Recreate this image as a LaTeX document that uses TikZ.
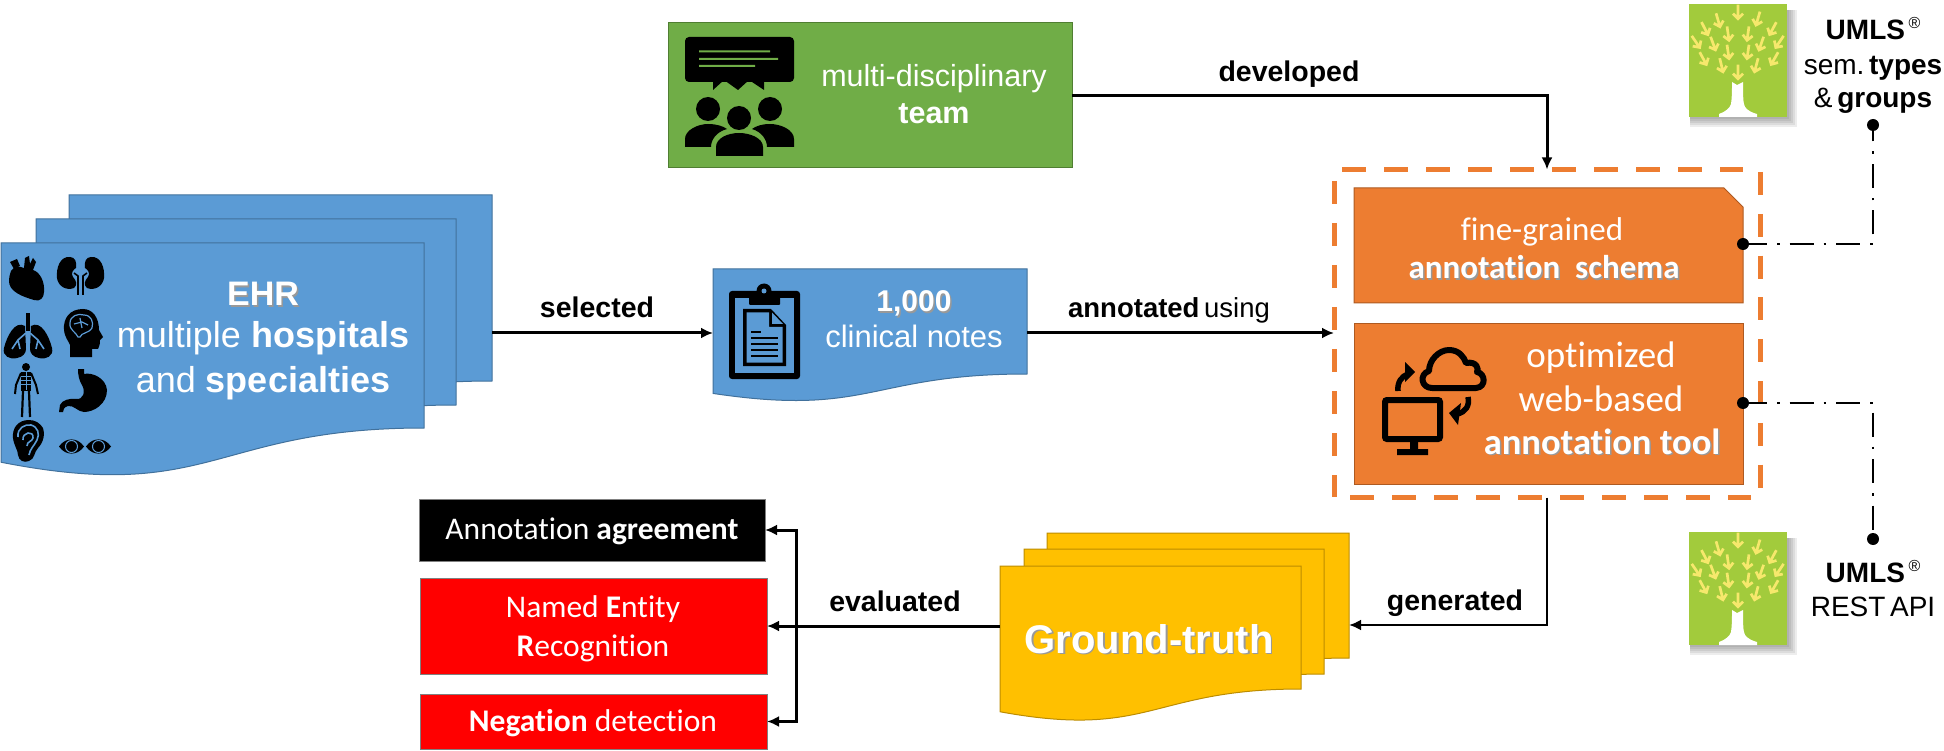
\documentclass[tikz,border=0pt]{standalone}
\usepackage{fontspec}
\setmainfont{Liberation Sans}
\newfontfamily\calfont[Ligatures=NoCommon]{Carlito}
\usetikzlibrary{arrows.meta,calc}

\definecolor{docblue}{HTML}{5B9BD5}
\definecolor{docblueline}{HTML}{41719C}
\definecolor{teamgreen}{HTML}{70AD47}
\definecolor{teamline}{HTML}{507E32}
\definecolor{toolorange}{HTML}{ED7D31}
\definecolor{toolline}{HTML}{AE5A21}
\definecolor{gtyellow}{HTML}{FFC000}
\definecolor{gtline}{HTML}{BC8C00}
\definecolor{leafgreen}{HTML}{A2CB3C}
\definecolor{leafyellow}{HTML}{F6E86C}

% white or black text with a small soft drop shadow
\newcommand{\shtext}[1]{\leavevmode\rlap{\kern1.5pt\raisebox{-1.5pt}{\textcolor{black!40}{#1}}}#1}
\newcommand{\px}[1]{\fontsize{#1}{#1}\selectfont}
% registered mark set small and high, clear of the word before it
\newcommand{\regmark}{\kern3.5pt\raisebox{11pt}{\px{16}®}}

% wavy-bottomed document sheet with an invisible named node over its body
\newcommand{\docshape}[6]{%
  \pgfmathsetmacro\dxm{(#3+#5)/2}%
  \pgfmathsetmacro\dyL{#4+1.185*(#6-#4)}%
  \pgfmathsetmacro\dyC{#4+1.41*(#6-#4)}%
  \pgfmathsetmacro\dw{#5-#3}%
  \pgfmathsetmacro\dh{#6-#4}%
  \draw[#2] (#3,#4) -- (#5,#4) -- (#5,#6) .. controls (\dxm,#6) and (\dxm,\dyC) .. (#3,\dyL) -- cycle;
  \node[inner sep=0pt,outer sep=0pt,minimum width=\dw pt,minimum height=\dh pt,anchor=north west] (#1) at (#3,#4) {};
}

\tikzset{
  x=1pt,y=-1pt,
  bluedoc/.style={fill=docblue,draw=docblueline,line width=1pt},
  yellowdoc/.style={fill=gtyellow,draw=gtline,line width=1pt},
  boxnode/.style={inner sep=0pt,outer sep=0pt,anchor=north west,line width=1pt},
  whitetext/.style={text=white,inner sep=0pt,outer sep=0pt,anchor=base,align=center},
  blacktext/.style={text=black,inner sep=0pt,outer sep=0pt,anchor=base,align=center},
  flow/.style={line width=3pt,-{Latex[length=12pt,width=11pt]}},
  twoway/.style={line width=3pt,{Latex[length=12pt,width=11pt]}-{Latex[length=12pt,width=11pt]}},
  linkdot/.style={circle,fill=black,inner sep=0pt,minimum size=12pt},
  dashdot/.style={line width=2pt,dash pattern=on 24pt off 10pt on 2.5pt off 10pt},
  framedash/.style={draw=toolorange,line width=5pt,dash pattern=on 24pt off 18pt},
  umlstree/.pic={
    \foreach \d in {10,8,6,4,2}{\fill[black,opacity=.07] (1,6) rectangle (98+\d,113+\d);}
    \fill[leafgreen] (0,0) rectangle (98,113);
    \fill[white] (43,78) -- (48,81) -- (54,78) .. controls (54,90) and (54,100) .. (56,103)
      .. controls (59,107) and (64,109) .. (68,110) -- (68,113) -- (30,113) -- (30,110)
      .. controls (36,108) and (41,104) .. (42,100) .. controls (43,94) and (43,86) .. (43,78) -- cycle;
    \foreach \zx/\zy in {235/35,175/60,295/55,135/85,340/85,205/100,265/100,108/125,160/130,
                         360/125,305/130,205/155,265/155,130/175,185/195,345/175,290/195,235/215}{
      \pgfmathsetmacro\ax{(\zx-88)/3}
      \pgfmathsetmacro\ay{(\zy-12)/3}
      \pgfmathsetmacro\ang{(235-\zx)*0.27}
      \begin{scope}[shift={(\ax,\ay)},rotate=\ang]
        \draw[leafyellow,line width=2.7pt] (0,-7) -- (0,6.5) (-5,2) -- (0,7) -- (5,2);
      \end{scope}
    }
  }
}

\begin{document}
\begin{tikzpicture}
\useasboundingbox (0,0) rectangle (1944,751);

% ---- stacked EHR sheets
\docshape{ehrback}{bluedoc}{69}{195}{492}{381}
\docshape{ehrmid}{bluedoc}{36}{219}{456}{405}
\docshape{ehrfront}{bluedoc}{1}{243}{424}{428}
\node[whitetext] (ehrtitle) at (263,306) {\px{34}\shtext{\textbf{EHR}}};
\node[whitetext] (ehrline1) at (263,348) {\px{36}multiple \textbf{hospitals}};
\node[whitetext] (ehrline2) at (263,392) {\px{36}and \textbf{specialties}};

% organ pictograms
\begin{scope}[black]
  % heart
  \fill (11,271) .. controls (14,266) and (20,266) .. (24,268) -- (25,258) -- (29,256) -- (30,264) -- (33,258) -- (36,262) -- (33,270)
    .. controls (40,272) and (45,282) .. (44,292) .. controls (44,298) and (40,302) .. (34,300)
    .. controls (24,297) and (8,292) .. (9,280) .. controls (9,277) and (10,274) .. (11,271) -- cycle;
  \fill (10,262) -- (17,259) -- (20,266) -- (14,269) -- cycle;
  % kidneys
  \foreach \m/\o in {1/0,-1/161}{
    \begin{scope}[xshift=\o pt,xscale=\m]
      \fill (70,257) .. controls (60,256) and (56,268) .. (57,278) .. controls (58,286) and (66,291) .. (74,288)
        .. controls (78,285) and (76,280) .. (73,277) .. controls (70,273) and (74,269) .. (76,268)
        .. controls (77,262) and (75,257) .. (70,257) -- cycle;
      \draw[line width=1.6pt] (74,273) -- (78,276) -- (78,295);
    \end{scope}
  }
  % lungs
  \foreach \m/\o in {1/0,-1/56}{
    \begin{scope}[xshift=\o pt,xscale=\m]
      \fill (25,326) .. controls (15,320) and (7,336) .. (4,348) .. controls (2,356) and (10,360) .. (17,358)
        .. controls (23,357) and (26,353) .. (26,349) -- cycle;
      \draw[docblue,line width=1.6pt] (26,333) -- (18,340) -- (12,349) (18,340) -- (20,349);
    \end{scope}
  }
  \fill (26,313) rectangle (30,331);
  % head with brain
  \fill (83,309) .. controls (70,309) and (63,318) .. (64,330) .. controls (65,338) and (68,340) .. (70,345)
    -- (70,357) -- (92,357) -- (92,349) -- (98,349) .. controls (100,345) and (100,342) .. (100,340)
    -- (103,337) -- (99,330) .. controls (99,318) and (93,309) .. (83,309) -- cycle;
  \draw[docblue,line width=1.2pt] (70,323) .. controls (70,316) and (78,313) .. (84,315)
    .. controls (91,315) and (94,322) .. (92,328) .. controls (88,334) and (82,332) .. (80,337)
    -- (78,337) .. controls (76,332) and (69,330) .. (70,323) -- cycle (74,324) -- (82,322) -- (88,325) (80,318) -- (82,328);
  % skeleton figure
  \fill (26,367) circle[radius=4];
  \fill (21,372) rectangle (31,391);
  \draw[line width=2pt] (21,373) -- (16,385) -- (15,394) (31,373) -- (36,385) -- (38,394);
  \draw[line width=2.2pt] (23,391) -- (22,417) (29,391) -- (30,417);
  \draw[docblue,line width=.8pt] (21,376) -- (31,376) (21,380) -- (31,380) (21,384) -- (31,384) (26,372) -- (26,390);
  % stomach
  \fill (78,369) -- (84,369) -- (84,374) .. controls (92,372) and (106,378) .. (107,390)
    .. controls (107,404) and (94,412) .. (84,412) .. controls (78,412) and (74,405) .. (68,406)
    .. controls (64,407) and (63,410) .. (63,412) -- (59,412) -- (60,405) .. controls (62,400) and (70,398) .. (76,399)
    .. controls (83,400) and (86,392) .. (82,385) .. controls (79,380) and (78,375) .. (78,369) -- cycle;
  % ear
  \fill (29,420) .. controls (18,420) and (12,428) .. (13,438) .. controls (14,446) and (18,450) .. (18,455)
    .. controls (19,461) and (24,463) .. (29,461) .. controls (35,459) and (34,452) .. (38,448)
    .. controls (44,442) and (45,433) .. (43,428) .. controls (40,423) and (35,420) .. (29,420) -- cycle;
  \draw[docblue,line width=1.6pt] (18,437) .. controls (17,428) and (25,424) .. (31,425) .. controls (38,427) and (40,434) .. (37,440)
    .. controls (34,446) and (30,449) .. (29,455);
  \draw[docblue,line width=1.6pt] (23,440) .. controls (22,432) and (34,430) .. (33,438) .. controls (32,442) and (27,441) .. (27,446);
  % eyes
  \foreach \ex in {71.5,98.5}{
    \fill (\ex-12.5,446.5) .. controls (\ex-6,437) and (\ex+6,437) .. (\ex+12.5,446.5)
      .. controls (\ex+6,456) and (\ex-6,456) .. (\ex-12.5,446.5) -- cycle;
    \draw[docblue,line width=1pt] (\ex,446.5) circle[radius=6];
    \fill (\ex,446.5) circle[radius=3.5];
  }
\end{scope}

% ---- clinical notes sheet
\docshape{notes}{bluedoc}{713}{269}{1027}{374}
\node[whitetext] (notestitle) at (914,312) {\px{30}\shtext{\textbf{1,000}}};
\node[whitetext] (notesline) at (914,348) {\px{31}clinical notes};
% clipboard pictogram
\fill[black,rounded corners=3pt] (729,291) rectangle (800,379);
\fill[docblue] (735,298) rectangle (794,373);
\fill[black,rounded corners=1pt] (749,293) rectangle (780,305);
\fill[black] (764,291) circle[radius=7.5];
\fill[docblue] (764,291) circle[radius=2.5];
\fill[black] (743,309) -- (771,309) -- (786,325) -- (786,366) -- (743,366) -- cycle;
\fill[docblue] (746.5,312.5) -- (769,312.5) -- (769,327) -- (782.5,327) -- (782.5,362.5) -- (746.5,362.5) -- cycle;
\fill[docblue] (772,312.5) -- (783,324) -- (772,324) -- cycle;
\foreach \ly in {338,344,350,356}{\fill[black] (751,\ly-1) rectangle (778,\ly+1);}
\fill[black] (751,331) rectangle (761,333);

% ---- multi-disciplinary team
\node[boxnode,fill=teamgreen,draw=teamline,minimum width=404pt,minimum height=145pt] (team) at (668,23) {};
\node[whitetext] (teamtext1) at (934,87) {\px{30.5}multi-disciplinary};
\node[whitetext] (teamtext2) at (934,124) {\px{30.5}\textbf{team}};
% speech bubble and people
\fill[black,rounded corners=4pt] (685,37) rectangle (794,82);
\fill[black] (713,80) -- (713,90) -- (724,80) -- (738,90) -- (749,80) -- (764,90) -- (764,80) -- cycle;
\fill[teamgreen] (699,50.5) rectangle (770,52.5) (699,58) rectangle (778,60) (699,65) rectangle (755,67);
\fill[black] (708,109) circle[radius=12] (770,109) circle[radius=12];
\fill[black] (685,147) -- (685,139) .. controls (685,130) and (698,124) .. (708,124) .. controls (716,124) and (723,126) .. (727,129)
  .. controls (716,132) and (711,140) .. (711,147) -- cycle;
\fill[black] (794,147) -- (794,139) .. controls (794,130) and (781,124) .. (770,124) .. controls (762,124) and (756,126) .. (752,129)
  .. controls (762,132) and (767,140) .. (767,147) -- cycle;
\fill[black] (739,118) circle[radius=12];
\fill[black] (716,156) -- (716,147) .. controls (716,138) and (728,133) .. (739,133) .. controls (750,133) and (763,138) .. (763,147) -- (763,156) -- cycle;

% ---- annotation schema and tool
\draw[fill=toolorange,draw=toolline,line width=1pt] (1354,188) -- (1724,188) -- (1743,207) -- (1743,303) -- (1354,303) -- cycle;
\node[inner sep=0pt,outer sep=0pt,minimum width=389pt,minimum height=115pt,anchor=north west] (schema) at (1354,188) {};
\node[boxnode,fill=toolorange,draw=toolline,minimum width=389pt,minimum height=160pt] (tool) at (1354,324) {};
\node[whitetext,font=\calfont] (schema1) at (1542,241) {\px{33}fine-grained};
\node[whitetext,font=\calfont] (schema2) at (1544,279) {\px{33}\shtext{\textbf{annotation\ \ schema}}};
\node[whitetext,font=\calfont] (tool1) at (1601,367) {\px{37}optimized};
\node[whitetext,font=\calfont] (tool2) at (1601,411) {\px{37}web-based};
\node[whitetext,font=\calfont] (tool3) at (1602,454) {\px{36.5}\shtext{\textbf{annotation tool}}};
% monitor, cloud and sync arrows
\draw[black,line width=6pt,rounded corners=2pt] (1385,400) rectangle (1440,439);
\fill[black] (1410,442) rectangle (1418,452) (1397,449) rectangle (1428,455);
\draw[black,line width=6pt,line join=round] (1432,388) .. controls (1421,388) and (1419,374) .. (1429,371)
  .. controls (1429,360) and (1439,350) .. (1449,350) .. controls (1459,350) and (1464,357) .. (1466,363)
  .. controls (1477,361) and (1479,369) .. (1477,372) .. controls (1485,373) and (1487,387) .. (1476,388) -- cycle;
\draw[black,line width=5.5pt] (1398,391) .. controls (1397,382) and (1402,376) .. (1408,374);
\fill[black] (1405,362) -- (1415,372) -- (1405,382) -- cycle;
\draw[black,line width=5.5pt] (1468,397) .. controls (1470,406) and (1465,412) .. (1458,414);
\fill[black] (1461,403) -- (1449,413) -- (1458,425) -- cycle;

% dashed frame round schema and tool
\node[inner sep=0pt,outer sep=0pt,minimum width=426pt,minimum height=328pt,anchor=north west] (frame) at (1334,169.5) {};
\draw[framedash] (1342,169.5) -- (1743,169.5);
\draw[framedash,dash pattern=on 23pt off 18.8pt] (1760,172) -- (1760,489);
\draw[framedash,dash pattern=on 24pt off 18pt] (1350,497.7) -- (1751,497.7);
\draw[framedash,dash pattern=on 23pt off 19pt] (1334,181) -- (1334,497);

% ---- ground-truth sheets
\docshape{gtback}{yellowdoc}{1047}{533}{1349}{658}
\docshape{gtmid}{yellowdoc}{1024}{549}{1324}{674}
\docshape{gtfront}{yellowdoc}{1000}{566}{1301}{689}
\node[whitetext] (gttext) at (1149,653) {\px{40}\shtext{\textbf{Ground-truth}}};

% ---- evaluation results
\node[boxnode,fill=black,draw=gray,line width=.6pt,minimum width=346pt,minimum height=62pt] (agreement) at (419,499) {};
\node[boxnode,fill=red,draw=gray,line width=.6pt,minimum width=347pt,minimum height=96pt] (ner) at (420,578) {};
\node[boxnode,fill=red,draw=gray,line width=.6pt,minimum width=347pt,minimum height=55pt] (negation) at (420,694) {};
\node[whitetext,font=\calfont] (agreementtext) at (592,539) {\px{31.5}Annotation \textbf{agreement}};
\node[whitetext,font=\calfont] (nertext1) at (593,617) {\px{31.5}Named \textbf{E}ntity};
\node[whitetext,font=\calfont] (nertext2) at (593,656) {\px{31.5}\textbf{R}ecognition};
\node[whitetext,font=\calfont] (negationtext) at (593,731) {\px{31.5}\textbf{Negation} detection};

% ---- UMLS resources
\pic at (1689,4) {umlstree};
\pic at (1689,532) {umlstree};
\node[blacktext] (umls1) at (1873,40) {\px{28}\textbf{UMLS}\regmark};
\node[blacktext] (umls1b) at (1873,75) {\px{28}sem.\,\textbf{types}};
\node[blacktext] (umls1c) at (1873,108) {\px{28}\&\,\textbf{groups}};
\node[blacktext] (umls2) at (1873,582) {\px{28}\textbf{UMLS}\regmark};
\node[blacktext] (umls2b) at (1873,616) {\px{28}REST\,API};

% ---- connector end points
\coordinate (ehrout) at (492,333);
\coordinate (notesin) at (713,333);
\coordinate (notesout) at (1027,333);
\coordinate (gtin) at (1349,625);
\coordinate (bus) at (796,625);
\coordinate (corner1) at (1873,244);
\coordinate (corner2) at (1873,403);

% ---- connectors
\draw[flow] (ehrout) -- (notesin);
\draw[flow] (notesout) -- (notesout -| frame.west);
\draw[flow] (team.east) -| (frame.north);
\draw[flow,line width=2.6pt] (frame.south) |- (gtin);
\draw[flow] (gtfront.west |- ner.east) -- (ner.east);
\draw[twoway] (agreement.east) -| (bus) |- (negation.east);

\node[linkdot] (schemadot) at (1743,244) {};
\node[linkdot] (tooldot) at (1743,403) {};
\node[linkdot] (typesdot) at (1873,125) {};
\node[linkdot] (apidot) at (1873,539) {};
\draw[dashdot] (schemadot.center) -- (corner1) -- (typesdot.center);
\draw[dashdot] (tooldot.center) -- (corner2) -- (apidot.center);

% ---- connector labels
\node[blacktext] (selected) at (597,318) {\px{28.5}\textbf{selected}};
\node[blacktext] (annotated) at (1169,318) {\px{27.5}\textbf{annotated}\,using};
\node[blacktext] (developed) at (1289,82) {\px{28.5}\textbf{developed}};
\node[blacktext] (evaluated) at (895,611) {\px{28.5}\textbf{evaluated}};
\node[blacktext] (generated) at (1455,610) {\px{28.5}\textbf{generated}};
\end{tikzpicture}
\end{document}
